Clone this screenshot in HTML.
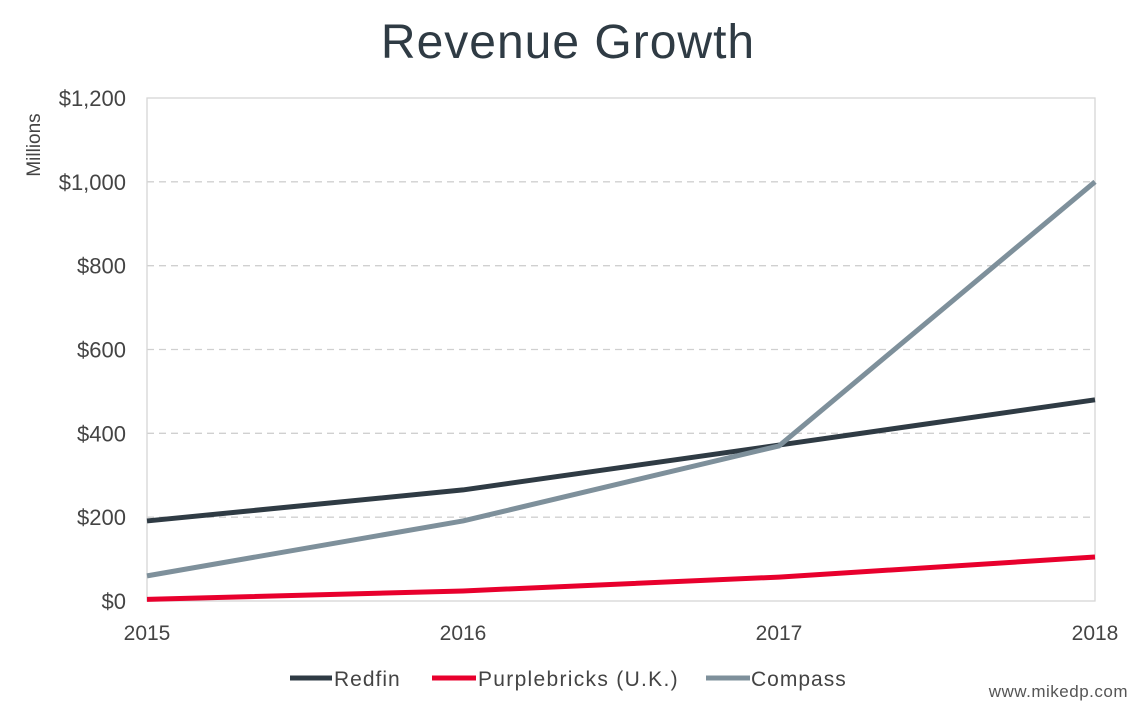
<!DOCTYPE html>
<html><head><meta charset="utf-8"><style>
body{margin:0;background:#fff;width:1142px;height:710px;overflow:hidden;font-family:"Liberation Sans",sans-serif}
</style></head><body>
<svg id="chart" width="1142" height="710" xmlns="http://www.w3.org/2000/svg">
<text x="568" y="58" text-anchor="middle" font-size="48" letter-spacing="1" fill="#2f3b44">Revenue Growth</text>
<text transform="translate(40,145) rotate(-90)" text-anchor="middle" font-size="19" fill="#444">Millions</text>
<g id="grid"></g><g id="series"></g><g id="ticks"></g>
<g>
<line x1="290" y1="678" x2="332" y2="678" stroke="#2f3b44" stroke-width="5"/>
<text x="334" y="686" font-size="21" letter-spacing="1" fill="#444">Redfin</text>
<line x1="432" y1="678" x2="476" y2="678" stroke="#e8002d" stroke-width="5"/>
<text x="478" y="686" font-size="21" letter-spacing="1.3" fill="#444">Purplebricks (U.K.)</text>
<line x1="706" y1="678" x2="750" y2="678" stroke="#7e909b" stroke-width="5"/>
<text x="751" y="686" font-size="21" letter-spacing="1" fill="#444">Compass</text>
</g>
<text x="1128" y="697" text-anchor="end" font-size="17" letter-spacing="0.5" fill="#555">www.mikedp.com</text>
</svg>
<script>
const years=["2015","2016","2017","2018"];
const redfin=[191,265,372,480];
const purplebricks=[4,24,57,105];
const compass=[60,191,370,1000];
const yTicks=[0,200,400,600,800,1000,1200];
const yLabels=["$0","$200","$400","$600","$800","$1,000","$1,200"];
const NS="http://www.w3.org/2000/svg";
const X0=147,X1=1095,Y0=601,Y1=98;
const xs=i=>X0+i*(X1-X0)/(years.length-1);
const ys=v=>Y0-v*(Y0-Y1)/1200;
function mk(t,a,p){const e=document.createElementNS(NS,t);for(const k in a)e.setAttribute(k,a[k]);p.appendChild(e);return e;}
const grid=document.getElementById('grid'),ticks=document.getElementById('ticks'),ser=document.getElementById('series');
yTicks.forEach((v,i)=>{
 if(v>0&&v<1200){const l=mk('line',{x1:X0,x2:X1,y1:ys(v),y2:ys(v),stroke:'#d0d0d0','stroke-width':1.3,'stroke-dasharray':'7,5'},grid);
 
 }
 const t=mk('text',{x:126,y:ys(v)+8,'text-anchor':'end','font-size':22,fill:'#444'},ticks);t.textContent=yLabels[i];
 
 
});
const box=mk('rect',{x:X0,y:Y1,width:X1-X0,height:Y0-Y1,fill:'none',stroke:'#d6d6d6','stroke-width':1.3},grid);


years.forEach((y,i)=>{const t=mk('text',{x:xs(i),y:640,'text-anchor':'middle','font-size':21,fill:'#444'},ticks);t.textContent=y;
 
 });
[[redfin,'#2f3b44','redfin-line'],[purplebricks,'#e8002d','purplebricks-line'],[compass,'#7e909b','compass-line']].forEach(([d,c,n])=>{
 const p=mk('polyline',{points:d.map((v,i)=>xs(i)+','+ys(v)).join(' '),fill:'none',stroke:c,'stroke-width':5,'stroke-linejoin':'round'},ser);
 
 
});
</script>
</body></html>
